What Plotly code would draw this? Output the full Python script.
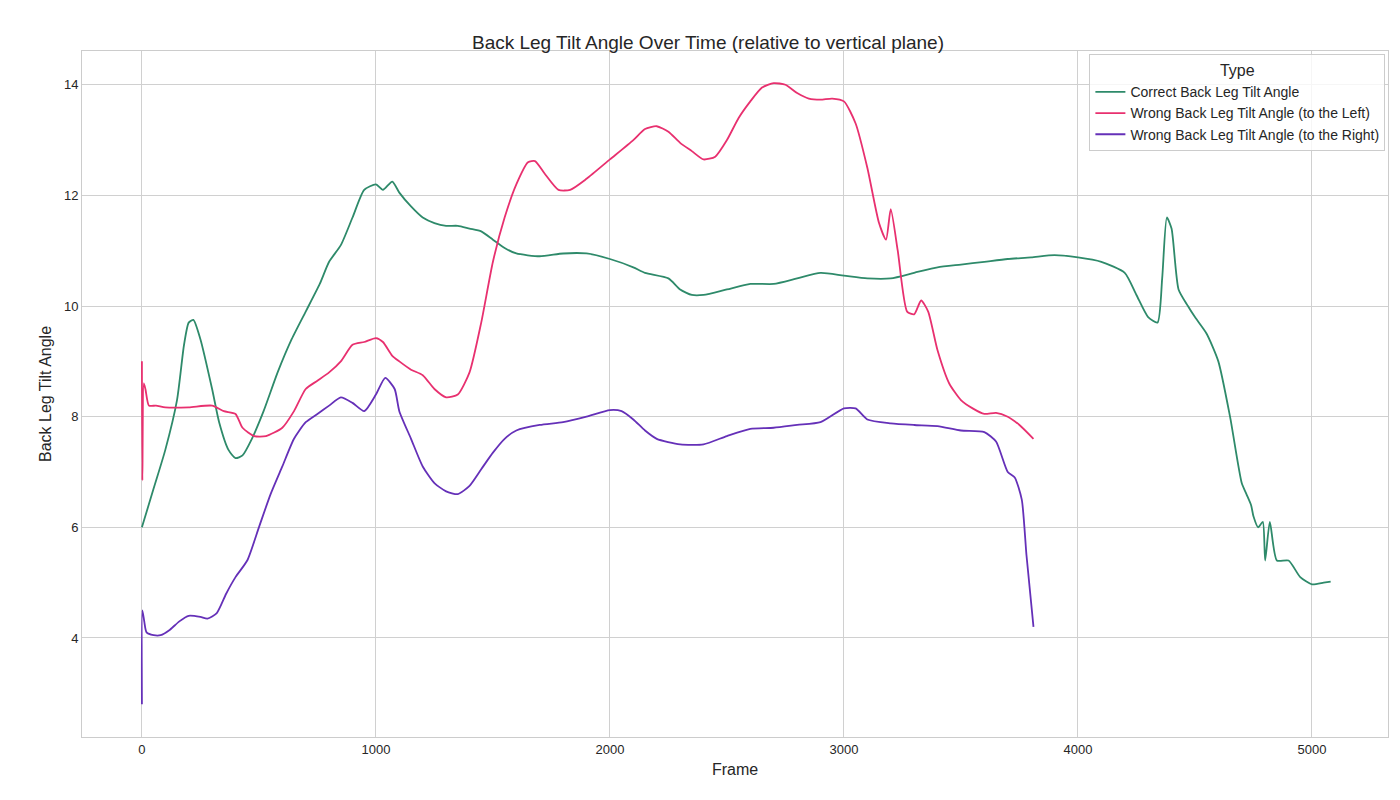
import plotly.graph_objects as go

# Correct back leg tilt angle
correct_x = [0, 50, 100, 150, 180, 200, 220, 250, 300, 330, 370, 400, 430, 470, 520, 580, 640, 700, 760, 800, 850, 900, 950, 1000, 1030, 1070, 1100, 1150, 1200, 1250, 1300, 1350, 1400, 1450, 1500, 1550, 1600, 1700, 1800, 1900, 2000, 2100, 2150, 2250, 2300, 2350, 2400, 2500, 2600, 2700, 2800, 2900, 3000, 3100, 3200, 3300, 3400, 3500, 3600, 3700, 3800, 3900, 4000, 4100, 4200, 4250, 4300, 4340, 4360, 4380, 4400, 4430, 4470, 4500, 4550, 4600, 4650, 4700, 4720, 4740, 4750, 4770, 4790, 4800, 4820, 4850, 4900, 4950, 5000, 5050, 5080]
correct_y = [6.0, 6.7, 7.4, 8.3, 9.3, 9.7, 9.75, 9.4, 8.5, 7.9, 7.4, 7.25, 7.3, 7.6, 8.1, 8.8, 9.4, 9.9, 10.4, 10.8, 11.1, 11.6, 12.1, 12.2, 12.1, 12.25, 12.05, 11.8, 11.6, 11.5, 11.45, 11.45, 11.4, 11.35, 11.2, 11.05, 10.95, 10.9, 10.95, 10.95, 10.85, 10.7, 10.6, 10.5, 10.3, 10.2, 10.2, 10.3, 10.4, 10.4, 10.5, 10.6, 10.55, 10.5, 10.5, 10.6, 10.7, 10.75, 10.8, 10.85, 10.88, 10.92, 10.88, 10.8, 10.6, 10.2, 9.8, 9.7, 10.5, 11.6, 11.4, 10.3, 10.0, 9.8, 9.5, 9.0, 8.0, 6.8, 6.6, 6.4, 6.2, 6.0, 6.1, 5.4, 6.1, 5.4, 5.4, 5.1, 4.97, 5.0, 5.02]

# Wrong back leg tilt angle (to the left)
left_x = [0, 2, 8, 15, 30, 60, 100, 200, 300, 350, 400, 430, 480, 530, 600, 650, 700, 750, 800, 850, 900, 950, 1000, 1030, 1070, 1100, 1150, 1200, 1250, 1300, 1350, 1400, 1450, 1500, 1550, 1600, 1650, 1680, 1720, 1780, 1830, 1900, 2000, 2100, 2150, 2200, 2250, 2300, 2350, 2400, 2450, 2500, 2550, 2600, 2650, 2700, 2750, 2800, 2850, 2900, 2950, 3000, 3050, 3100, 3150, 3180, 3200, 3230, 3270, 3300, 3330, 3360, 3400, 3450, 3500, 3550, 3600, 3650, 3700, 3750, 3810]
left_y = [9.0, 6.85, 8.6, 8.5, 8.2, 8.2, 8.17, 8.17, 8.2, 8.1, 8.05, 7.8, 7.65, 7.65, 7.8, 8.1, 8.5, 8.65, 8.8, 9.0, 9.3, 9.35, 9.42, 9.35, 9.1, 9.0, 8.85, 8.75, 8.5, 8.35, 8.4, 8.8, 9.7, 10.8, 11.6, 12.2, 12.6, 12.62, 12.4, 12.1, 12.1, 12.3, 12.65, 13.0, 13.2, 13.25, 13.15, 12.95, 12.8, 12.65, 12.7, 13.0, 13.4, 13.7, 13.95, 14.03, 14.0, 13.85, 13.75, 13.73, 13.75, 13.7, 13.3, 12.5, 11.5, 11.2, 11.75, 11.0, 9.9, 9.85, 10.1, 9.9, 9.2, 8.6, 8.3, 8.15, 8.05, 8.07, 8.0, 7.85, 7.6]

# Wrong back leg tilt angle (to the right)
right_x = [0, 2, 10, 20, 50, 80, 120, 160, 200, 250, 280, 320, 360, 400, 450, 500, 550, 600, 650, 700, 750, 800, 850, 900, 950, 1000, 1040, 1080, 1100, 1150, 1200, 1250, 1300, 1350, 1400, 1450, 1500, 1550, 1600, 1700, 1800, 1900, 2000, 2050, 2100, 2150, 2200, 2300, 2400, 2500, 2600, 2700, 2800, 2900, 3000, 3050, 3100, 3200, 3300, 3400, 3500, 3600, 3650, 3700, 3730, 3760, 3780, 3810]
right_y = [2.8, 4.5, 4.3, 4.1, 4.05, 4.05, 4.15, 4.3, 4.4, 4.38, 4.35, 4.45, 4.8, 5.1, 5.4, 6.0, 6.6, 7.1, 7.6, 7.9, 8.05, 8.2, 8.35, 8.25, 8.1, 8.4, 8.7, 8.5, 8.1, 7.6, 7.1, 6.8, 6.65, 6.6, 6.75, 7.05, 7.35, 7.6, 7.75, 7.85, 7.9, 8.0, 8.12, 8.1, 7.95, 7.75, 7.6, 7.5, 7.5, 7.65, 7.78, 7.8, 7.85, 7.9, 8.15, 8.15, 7.95, 7.88, 7.85, 7.83, 7.75, 7.72, 7.55, 7.0, 6.9, 6.5, 5.5, 4.2]

fig = go.Figure()
fig.add_trace(go.Scatter(x=correct_x, y=correct_y, mode="lines", name="Correct Back Leg Tilt Angle",
                         line=dict(color="#2e8a6a", width=1.8, shape="spline", smoothing=0.6)))
fig.add_trace(go.Scatter(x=left_x, y=left_y, mode="lines", name="Wrong Back Leg Tilt Angle (to the Left)",
                         line=dict(color="#e8306f", width=1.8, shape="spline", smoothing=0.6)))
fig.add_trace(go.Scatter(x=right_x, y=right_y, mode="lines", name="Wrong Back Leg Tilt Angle (to the Right)",
                         line=dict(color="#6530b8", width=1.8, shape="spline", smoothing=0.6)))

axis_style = dict(showgrid=True, gridcolor="#d0d0d0", showline=True, linecolor="#cccccc",
                  mirror=True, zeroline=False, ticks="", automargin=False,
                  tickfont=dict(size=13, color="#262626"))
fig.update_layout(
    width=1400, height=800,
    title=dict(text="Back Leg Tilt Angle Over Time (relative to vertical plane)", x=0.5, y=0.965,
               font=dict(size=19, color="#262626")),
    font=dict(family="Liberation Sans, Arial", color="#262626"),
    plot_bgcolor="white", paper_bgcolor="white",
    margin=dict(l=74, r=20, t=43, b=71),
    xaxis=dict(title=dict(text="Frame", font=dict(size=16), standoff=8), range=[-256, 5325],
               tickvals=[0, 1000, 2000, 3000, 4000, 5000], **axis_style),
    yaxis=dict(title=dict(text="Back Leg Tilt Angle", font=dict(size=16), standoff=8), range=[2.21, 14.61],
               tickvals=[4, 6, 8, 10, 12, 14], **axis_style),
    legend=dict(title=dict(text="Type", side="top center", font=dict(size=16)), x=0.998, y=0.995,
                xanchor="right", yanchor="top", bordercolor="#cccccc", borderwidth=1,
                bgcolor="rgba(255,255,255,0.8)", font=dict(size=14)),
)
fig.write_html("out.html")
